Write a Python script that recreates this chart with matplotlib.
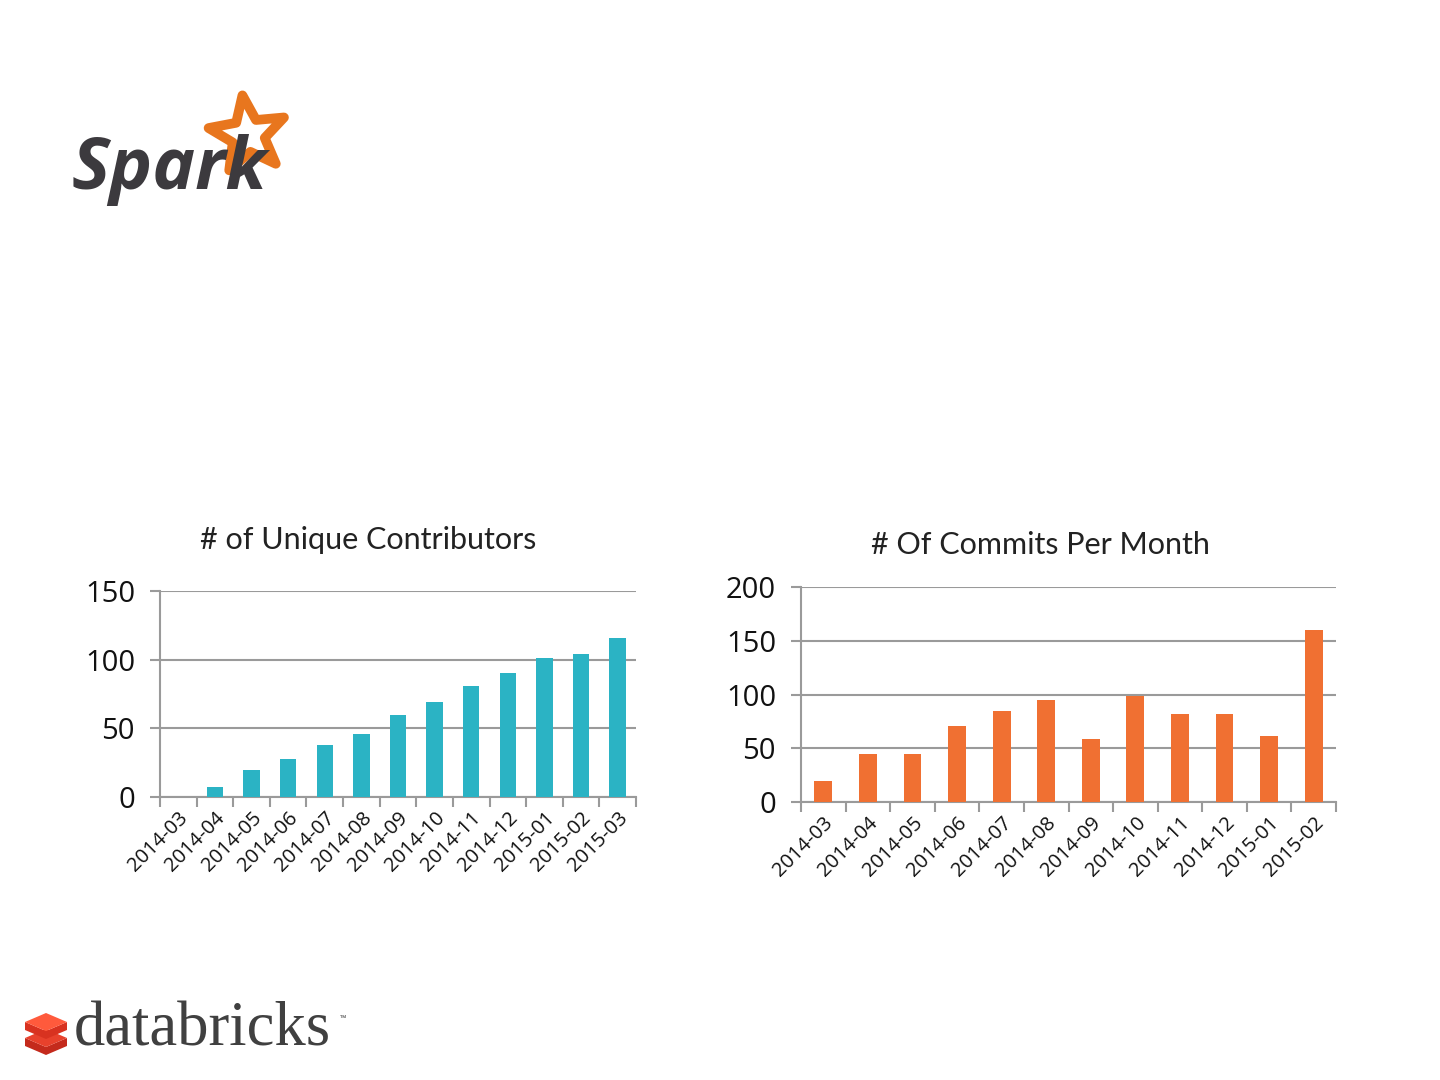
import matplotlib
matplotlib.use("Agg")
import matplotlib.pyplot as plt
from matplotlib.patches import Polygon
import numpy as np

contrib_months = ["2014-03", "2014-04", "2014-05", "2014-06", "2014-07", "2014-08",
                  "2014-09", "2014-10", "2014-11", "2014-12", "2015-01", "2015-02", "2015-03"]
contrib_values = [0, 7, 20, 28, 38, 46, 60, 69, 81, 90, 101, 104, 116]

commit_months = ["2014-03", "2014-04", "2014-05", "2014-06", "2014-07", "2014-08",
                 "2014-09", "2014-10", "2014-11", "2014-12", "2015-01", "2015-02"]
commit_values = [20, 45, 45, 71, 85, 95, 59, 99, 82, 82, 61, 160]

plt.rcParams['font.family'] = ['Open Sans', 'DejaVu Sans']

fig = plt.figure(figsize=(14.4, 10.8), dpi=100)
W, H = 1440, 1080

def px_axes(x0, y0, x1, y1):
    return fig.add_axes([x0 / W, 1 - y1 / H, (x1 - x0) / W, (y1 - y0) / H])

grid_c = "#9a9a9a"

def style(ax, cats, vals, color, ymax, step, bw):
    x = np.arange(len(cats))
    ax.bar(x, vals, width=bw, color=color, zorder=3)
    ax.set_xlim(-0.5, len(cats) - 0.5)
    ax.set_ylim(0, ymax)
    ax.set_yticks(np.arange(0, ymax + 1, step))
    ax.yaxis.grid(True, color=grid_c, linewidth=1.5, zorder=0)
    for s in ["top", "right"]:
        ax.spines[s].set_visible(False)
    for s in ["left", "bottom"]:
        ax.spines[s].set_color(grid_c)
        ax.spines[s].set_linewidth(1.5)
    ax.set_xticks(x)
    ax.set_xticklabels(cats, rotation=45, ha="right", rotation_mode="anchor", fontsize=14.5,
                       color="#111111")
    ax.tick_params(axis="x", length=0, pad=8)
    ax.set_xticks(np.arange(-0.5, len(cats)), minor=True)
    ax.tick_params(axis="x", which="minor", length=7, width=1.5, color=grid_c)
    ax.tick_params(axis="y", length=7, width=1.5, color=grid_c, labelsize=21, pad=11,
                   labelcolor="#111111")

ax1 = px_axes(160, 591, 636, 797)
style(ax1, contrib_months, contrib_values, "#2bb3c4", 150, 50, 0.45)
ax2 = px_axes(801, 587, 1336, 802)
style(ax2, commit_months, commit_values, "#f07032", 200, 50, 0.4)

fig.text(368 / W, 1 - 540 / H, "# of Unique Contributors", ha="center", va="center",
         fontsize=22, color="#222222", family=["Lato", "DejaVu Sans"])
fig.text(1040 / W, 1 - 545 / H, "# Of Commits Per Month", ha="center", va="center",
         fontsize=22, color="#222222", family=["Lato", "DejaVu Sans"])

# Spark logo
fig.text(72 / W, 1 - 170 / H, "Spark", ha="left", va="center", fontsize=52,
         fontweight="bold", style="italic", color="#3c3a3e", family=["Open Sans", "DejaVu Sans"])
cx, cy = 248, 135
ang = np.deg2rad(np.arange(10) * 36 + 90 + 8)
rad = np.array([40, 17] * 5)
pts = [((cx + r * np.cos(a)) / W, 1 - (cy - r * np.sin(a)) / H) for r, a in zip(rad, ang)]
fig.patches.append(Polygon(pts, closed=True, fill=False, edgecolor="#e8761e", linewidth=7,
                           joinstyle="round", transform=fig.transFigure))

# databricks logo
def rhombus(cx, cy, w, h, d, col_top, col_side):
    top = [(cx - w, cy), (cx, cy - h), (cx + w, cy), (cx, cy + h)]
    side = [(cx - w, cy), (cx, cy + h), (cx + w, cy), (cx + w, cy + d), (cx, cy + h + d), (cx - w, cy + d)]
    for p, c in [(side, col_side), (top, col_top)]:
        fig.patches.append(Polygon([(a / W, 1 - b / H) for a, b in p], closed=True,
                                   facecolor=c, edgecolor="none", transform=fig.transFigure))

rhombus(46, 1038, 21, 9, 8, "#e8412c", "#c42a1c")
rhombus(46, 1022, 21, 9, 8, "#ff5a3c", "#d83220")
fig.text(74 / W, 1 - 1030 / H, "databricks", ha="left", va="center", fontsize=45,
         color="#404040", family=["Liberation Serif", "DejaVu Serif"])
fig.text(340 / W, 1 - 1020 / H, "™", ha="left", va="center", fontsize=6, color="#404040")

fig.savefig("out.png", dpi=100)
